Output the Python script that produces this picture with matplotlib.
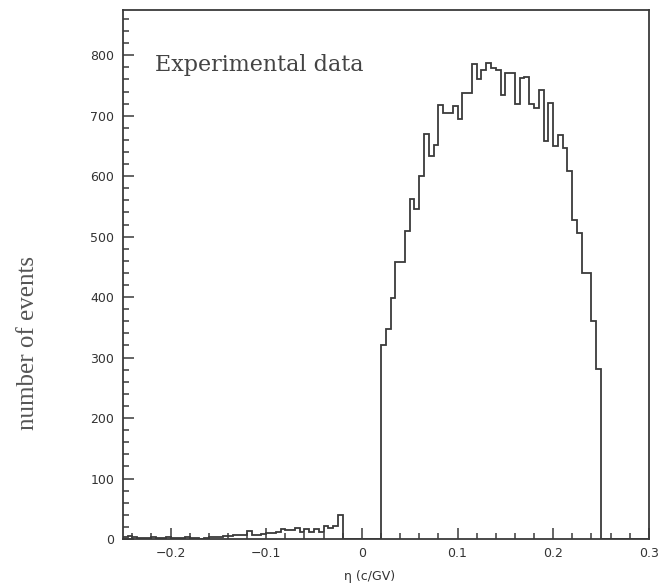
import numpy as np
import matplotlib
matplotlib.use("Agg")
import matplotlib.pyplot as plt
from matplotlib.ticker import MultipleLocator

# histogram: bins of width 0.005 from -0.25 to 0.30
bin_start = -0.25
bin_width = 0.005

# negative side: -0.25 ... -0.025 (46 bins)
neg_counts = [3, 5, 4, 2, 1, 2, 3, 2, 2, 3,
              2, 1, 2, 4, 2, 1, 0, 2, 3, 4,
              3, 5, 5, 6, 7, 7, 13, 7, 6, 8,
              10, 10, 11, 17, 15, 15, 18, 11, 17, 11,
              17, 11, 22, 18, 22, 39]
# gap: -0.02 ... 0.015 (8 bins)
gap_counts = [0, 0, 0, 0, 0, 0, 0, 0]
# main peak: 0.02 ... 0.245 (46 bins)
pos_counts = [320, 348, 398, 458, 458, 510, 563, 545, 600, 669,
              633, 652, 718, 705, 705, 716, 694, 738, 738, 785,
              760, 776, 788, 779, 776, 735, 770, 770, 719, 763,
              764, 719, 713, 743, 658, 721, 650, 668, 647, 608,
              528, 506, 440, 440, 360, 281]
# tail: 0.25 ... 0.295 (10 bins)
tail_counts = [0] * 10

counts = np.array(neg_counts + gap_counts + pos_counts + tail_counts, dtype=float)
edges = bin_start + bin_width * np.arange(len(counts) + 1)

x_ticks = [-0.2, -0.1, 0, 0.1, 0.2, 0.3]
x_ticklabels = ["\u22120.2", "\u22120.1", "0", "0.1", "0.2", "0.3"]
y_ticks = [0, 100, 200, 300, 400, 500, 600, 700, 800]

fig = plt.figure(figsize=(6.6, 5.83), dpi=100)
ax = fig.add_axes([0.186, 0.0755, 0.797, 0.9075])

line_color = "#3a3a3a"
ax.stairs(counts, edges, color=line_color, linewidth=1.3, baseline=None)

ax.set_xlim(-0.25, 0.3)
ax.set_ylim(0, 875)

ax.set_xticks(x_ticks)
ax.set_xticklabels(x_ticklabels)
ax.set_yticks(y_ticks)
ax.xaxis.set_minor_locator(MultipleLocator(0.02))
ax.yaxis.set_minor_locator(MultipleLocator(20))

ax.tick_params(which="both", direction="in", top=False, right=False,
               color=line_color, width=1.1)
ax.tick_params(which="major", length=8, labelsize=9, labelcolor="#333333", pad=6)
ax.tick_params(which="minor", length=4)
for s in ax.spines.values():
    s.set_color(line_color)
    s.set_linewidth(1.3)

ax.set_xlabel("\u03b7 (c/GV)", fontsize=9, color="#333333")
ax.xaxis.set_label_coords(0.47, -0.058)
ax.set_ylabel("number of events", fontsize=18, family="Liberation Serif",
              color="#555555")
ax.yaxis.set_label_coords(-0.16, 0.37)

ax.text(0.062, 0.895, "Experimental data", transform=ax.transAxes,
        fontsize=16, family="DejaVu Serif", color="#444444", va="center")

fig.savefig("out.png", dpi=100)
